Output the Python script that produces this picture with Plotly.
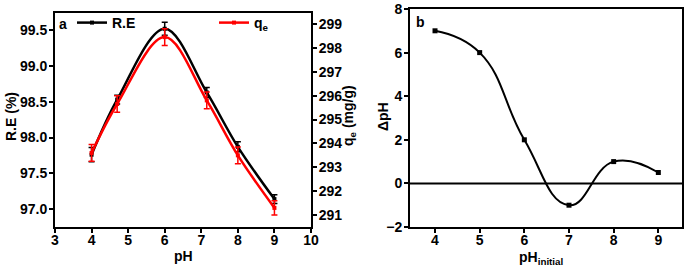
import plotly.graph_objects as go

# Panel a data
ph_a = [4.0, 4.7, 6.0, 7.15, 8.0, 9.0]
re_vals = [97.76, 98.53, 99.52, 98.63, 97.87, 97.14]
re_err = [0.10, 0.06, 0.09, 0.07, 0.07, 0.06]
qe_vals = [293.6, 295.65, 298.45, 295.8, 293.5, 291.3]
qe_err = [0.35, 0.35, 0.35, 0.35, 0.35, 0.3]

# Panel b data
ph_init = [4, 5, 6, 7, 8, 9]
delta_ph = [7.0, 6.0, 2.0, -1.0, 1.0, 0.5]

W, H = 685, 267
def px_x(v): return v / W
def px_y(v): return 1 - v / H

F = dict(family="Liberation Sans, Arial, sans-serif", size=14, color="black", weight="bold")

fig = go.Figure()
fig.add_trace(go.Scatter(
    x=ph_a, y=re_vals, mode="lines+markers", name="R.E", legend="legend",
    line=dict(color="black", width=2.5, shape="spline", smoothing=1.0),
    marker=dict(symbol="square", size=4, color="black"),
    error_y=dict(type="data", array=re_err, color="black", thickness=1.5, width=3),
    xaxis="x", yaxis="y"))
fig.add_trace(go.Scatter(
    x=ph_a, y=qe_vals, mode="lines+markers", name="q<sub>e</sub>", legend="legend2",
    line=dict(color="#ff0000", width=2.5, shape="spline", smoothing=1.0),
    marker=dict(symbol="square", size=4, color="#ff0000"),
    error_y=dict(type="data", array=qe_err, color="#ff0000", thickness=1.5, width=3),
    xaxis="x", yaxis="y2"))
fig.add_trace(go.Scatter(
    x=ph_init, y=delta_ph, mode="lines+markers", showlegend=False,
    line=dict(color="black", width=2, shape="spline", smoothing=1.3),
    marker=dict(symbol="square", size=5, color="black"),
    xaxis="x2", yaxis="y3"))

axcommon = dict(showline=True, linecolor="black", linewidth=2, showgrid=False,
                zeroline=False, ticks="outside", ticklen=4, tickwidth=1.5,
                tickcolor="black", tickfont=F, automargin=False)
xax = dict(axcommon, ticklabelstandoff=-5)
yax = dict(axcommon, ticklabelstandoff=-1)

legcommon = dict(orientation="h", yanchor="middle", xanchor="left",
                 bgcolor="rgba(0,0,0,0)", font=F, itemwidth=30)

fig.update_layout(
    width=W, height=H, margin=dict(l=0, r=0, t=0, b=0, autoexpand=False),
    plot_bgcolor="white", paper_bgcolor="white", font=F,
    xaxis=dict(xax, domain=[px_x(55), px_x(311)], range=[3, 10], dtick=1,
               mirror=True, anchor="y"),
    yaxis=dict(yax, domain=[px_y(227), px_y(13)], range=[96.75, 99.74],
               dtick=0.5, tickformat=".1f", anchor="x"),
    yaxis2=dict(yax, overlaying="y", side="right", anchor="x",
                range=[290.5, 299.46], dtick=1),
    xaxis2=dict(xax, domain=[px_x(410), px_x(682)], range=[3.44, 9.53], dtick=1,
                mirror=True, anchor="y3"),
    yaxis3=dict(yax, domain=[px_y(227), px_y(9)], range=[-2, 8], dtick=2,
                mirror=True, anchor="x2"),
    legend=dict(legcommon, x=px_x(72), y=px_y(23)),
    legend2=dict(legcommon, x=px_x(214), y=px_y(23)),
    showlegend=True,
)

fig.add_shape(type="line", xref="x2 domain", yref="y3", x0=0, x1=1, y0=0, y1=0,
              line=dict(color="black", width=2))

# axis titles
fig.add_annotation(text="pH", xref="x domain", yref="paper", x=0.5, y=px_y(256),
                   xanchor="center", yanchor="middle", showarrow=False, font=F)
fig.add_annotation(text="pH<sub>initial</sub>", xref="paper", yref="paper",
                   x=px_x(541), y=px_y(258),
                   xanchor="center", yanchor="middle", showarrow=False, font=F)
fig.add_annotation(text="R.E (%)", xref="paper", yref="paper", x=px_x(11), y=px_y(117),
                   xanchor="center", yanchor="middle", textangle=-90, showarrow=False, font=F)
fig.add_annotation(text="q<sub>e</sub> (mg/g)", xref="paper", yref="paper", x=px_x(349), y=px_y(116),
                   xanchor="center", yanchor="middle", textangle=-90, showarrow=False, font=F)
fig.add_annotation(text="ΔpH", xref="paper", yref="paper", x=px_x(383), y=px_y(117),
                   xanchor="center", yanchor="middle", textangle=-90, showarrow=False, font=F)

fig.add_annotation(text="a", xref="paper", yref="paper", x=px_x(57), y=px_y(14),
                   xanchor="left", yanchor="top", showarrow=False, font=F)
fig.add_annotation(text="b", xref="paper", yref="paper", x=px_x(414), y=px_y(12),
                   xanchor="left", yanchor="top", showarrow=False, font=F)

fig.write_html("out.html", config={"displayModeBar": False},
               post_script="document.body.style.margin='0';")
